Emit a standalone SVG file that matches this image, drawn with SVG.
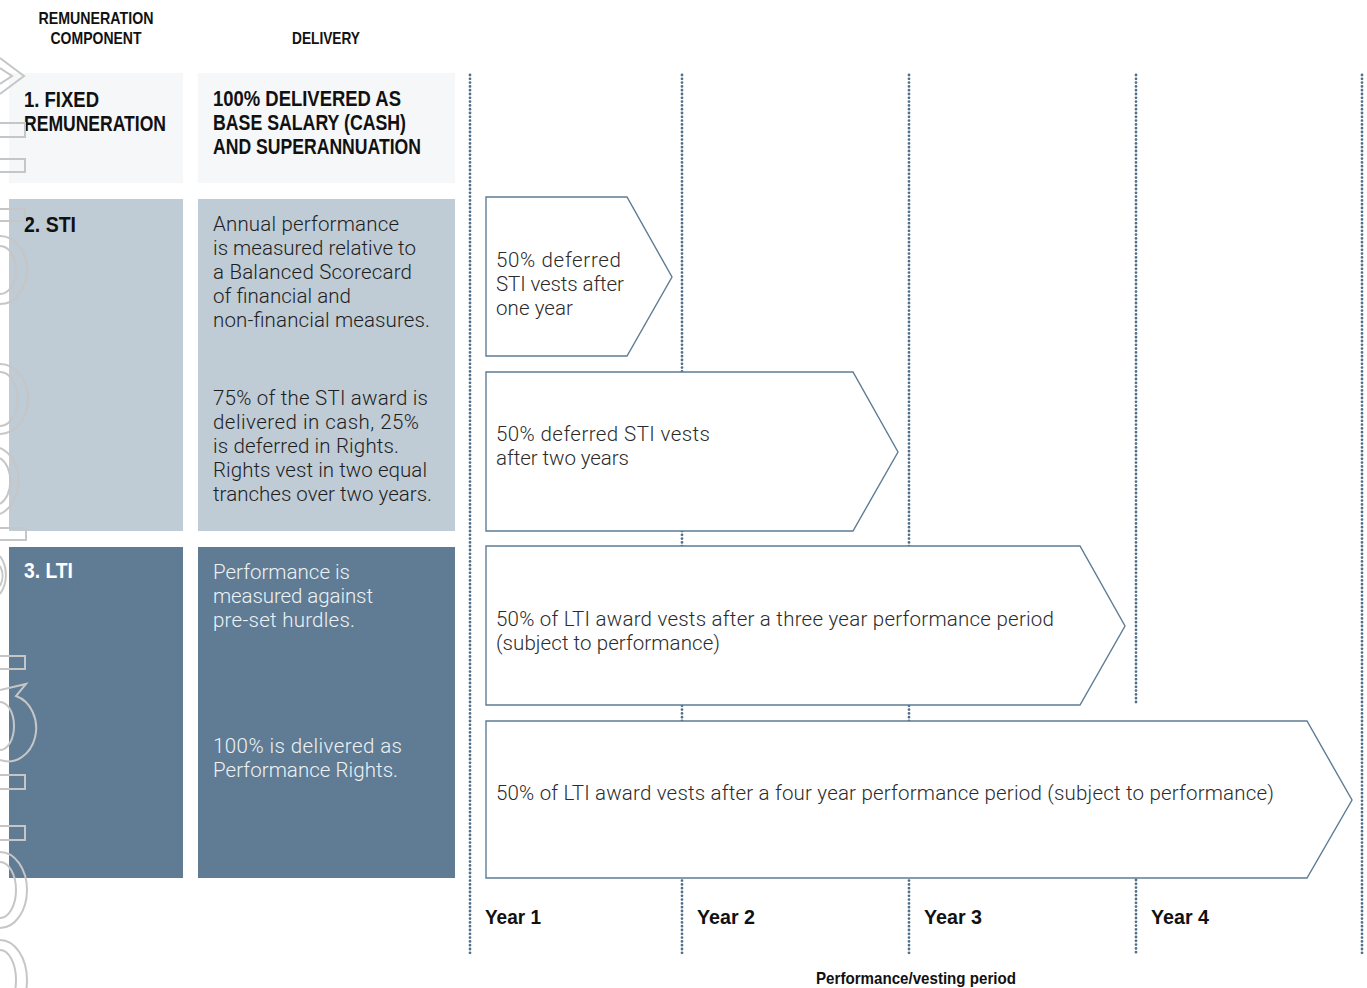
<svg xmlns="http://www.w3.org/2000/svg" width="1367" height="988" viewBox="0 0 1367 988">
  <defs>
    <style>
      .hdr { font-family: "Liberation Sans", Arial, sans-serif; font-weight: 700; fill: #111; }
      .light { font-family: Roboto, "Liberation Sans", sans-serif; font-weight: 300; font-size: 20.5px; fill: #1e1e1e; }
      .lightw { font-family: Roboto, "Liberation Sans", sans-serif; font-weight: 300; font-size: 20.5px; fill: #eef2f5; }
      .arrtxt { font-family: Roboto, "Liberation Sans", sans-serif; font-weight: 300; font-size: 20.5px; fill: #2b2b2b; }
      .grid { stroke: #4f6f8a; stroke-width: 2.8; stroke-dasharray: 0 3.8; stroke-linecap: round; fill: none; }
      .arrow { fill: #ffffff; stroke: #5e7c94; stroke-width: 1.4; }
      .mark { fill: none; stroke: #c6c6c6; stroke-width: 2; }
    </style>
  </defs>
  <rect width="1367" height="988" fill="#ffffff"/>

  <!-- column headers -->
  <g id="headers">
    <text class="hdr" font-size="16.5" x="96" y="24" text-anchor="middle" textLength="115" lengthAdjust="spacingAndGlyphs">REMUNERATION</text>
    <text class="hdr" font-size="16.5" x="96" y="44" text-anchor="middle" textLength="91" lengthAdjust="spacingAndGlyphs">COMPONENT</text>
    <text class="hdr" font-size="16.5" x="326" y="44" text-anchor="middle" textLength="68" lengthAdjust="spacingAndGlyphs">DELIVERY</text>
  </g>

  <!-- vertical year grid lines -->
  <g id="connectors">
    <line class="grid" x1="470" y1="75" x2="470" y2="955"/>
    <line class="grid" x1="682" y1="75" x2="682" y2="955"/>
    <line class="grid" x1="909" y1="75" x2="909" y2="955"/>
    <line class="grid" x1="1136" y1="75" x2="1136" y2="705"/>
    <line class="grid" x1="1136" y1="880" x2="1136" y2="955"/>
    <line class="grid" x1="1362" y1="75" x2="1362" y2="955"/>
  </g>

  <!-- 1. Fixed remuneration -->
  <g id="fixed">
    <rect x="9" y="73" width="174" height="110" fill="#f6f7f8"/>
    <text class="hdr" font-size="22" x="24" y="107" textLength="75" lengthAdjust="spacingAndGlyphs">1. FIXED</text>
    <text class="hdr" font-size="22" x="24" y="131" textLength="142" lengthAdjust="spacingAndGlyphs">REMUNERATION</text>
  </g>
  <g id="fixed-delivery">
    <rect x="198" y="73" width="257" height="110" fill="#f6f7f8"/>
    <text class="hdr" font-size="22" x="213" y="106" textLength="188" lengthAdjust="spacingAndGlyphs">100% DELIVERED AS</text>
    <text class="hdr" font-size="22" x="213" y="130" textLength="193" lengthAdjust="spacingAndGlyphs">BASE SALARY (CASH)</text>
    <text class="hdr" font-size="22" x="213" y="154" textLength="208" lengthAdjust="spacingAndGlyphs">AND SUPERANNUATION</text>
  </g>

  <!-- 2. STI -->
  <g id="sti">
    <rect x="9" y="199" width="174" height="332" fill="#bfcbd5"/>
    <text class="hdr" font-size="22" x="24" y="232" textLength="52" lengthAdjust="spacingAndGlyphs">2. STI</text>
  </g>
  <g id="sti-delivery">
    <rect x="198" y="199" width="257" height="332" fill="#bfcbd5"/>
    <text class="light" x="213" y="231" textLength="186">Annual performance</text>
    <text class="light" x="213" y="255" textLength="203">is measured relative to</text>
    <text class="light" x="213" y="279" textLength="199">a Balanced Scorecard</text>
    <text class="light" x="213" y="303" textLength="138">of financial and</text>
    <text class="light" x="213" y="327" textLength="217">non-financial measures.</text>
    <text class="light" x="213" y="405" textLength="215">75% of the STI award is</text>
    <text class="light" x="213" y="429" textLength="206">delivered in cash, 25%</text>
    <text class="light" x="213" y="453" textLength="186">is deferred in Rights.</text>
    <text class="light" x="213" y="477" textLength="214">Rights vest in two equal</text>
    <text class="light" x="213" y="501" textLength="219">tranches over two years.</text>
  </g>

  <!-- 3. LTI -->
  <g id="lti">
    <rect x="9" y="547" width="174" height="331" fill="#5f7c94"/>
    <text class="hdr" font-size="22" x="24" y="578" style="fill:#ffffff" textLength="49" lengthAdjust="spacingAndGlyphs">3. LTI</text>
  </g>
  <g id="lti-delivery">
    <rect x="198" y="547" width="257" height="331" fill="#5f7c94"/>
    <text class="lightw" x="213" y="579" textLength="137">Performance is</text>
    <text class="lightw" x="213" y="603" textLength="160">measured against</text>
    <text class="lightw" x="213" y="627" textLength="142">pre-set hurdles.</text>
    <text class="lightw" x="213" y="753" textLength="189">100% is delivered as</text>
    <text class="lightw" x="213" y="777" textLength="185">Performance Rights.</text>
  </g>

  <!-- decorative outline shapes along the left edge -->
  <g id="edge-mark">
    <path class="mark" d="M0,58 L24,76 L0,94 M0,68 L12,76 L0,84"/>
    <rect class="mark" x="-4" y="123" width="29" height="14"/>
    <rect class="mark" x="-4" y="159" width="29" height="13"/>
    <rect class="mark" x="-4" y="209" width="29" height="12"/>
    <path class="mark" d="M0,236 A27,34 0 0 1 0,304 M0,246 A16,24 0 0 1 0,294"/>
    <path class="mark" d="M0,364 A28,35 0 0 1 0,434 M0,372 A17,26 0 0 1 0,426"/>
    <path class="mark" d="M0,448 A28,35 0 0 1 0,514 M0,458 A17,25 0 0 1 0,504"/>
    <path class="mark" d="M0,528 L26,528 L26,540 L0,540 M0,556 A26,30 0 0 1 0,594 M0,566 A15,18 0 0 1 0,586"/>
    <rect class="mark" x="-4" y="656" width="29" height="13"/>
    <path class="mark" d="M0,690 L26,684 L16,696 A27,32 0 0 1 0,760 M0,702 A14,24 0 0 1 0,750"/>
    <rect class="mark" x="-4" y="775" width="29" height="14"/>
    <rect class="mark" x="-4" y="826" width="29" height="14"/>
    <path class="mark" d="M0,852 A27,38 0 0 1 0,928 M0,862 A16,28 0 0 1 0,918"/>
    <path class="mark" d="M0,940 A27,40 0 0 1 0,1020 M0,950 A16,30 0 0 1 0,1010"/>
  </g>

  <!-- vesting arrows -->
  <g id="sti-year1">
    <polygon class="arrow" points="486,197 627,197 672,277 627,356 486,356"/>
    <text class="arrtxt" x="496" y="267" textLength="125">50% deferred</text>
    <text class="arrtxt" x="496" y="291" textLength="128">STI vests after</text>
    <text class="arrtxt" x="496" y="315" textLength="77">one year</text>
  </g>
  <g id="sti-year2">
    <polygon class="arrow" points="486,372 853,372 898,452 853,531 486,531"/>
    <text class="arrtxt" x="496" y="441" textLength="214">50% deferred STI vests</text>
    <text class="arrtxt" x="496" y="465" textLength="133">after two years</text>
  </g>
  <g id="lti-year3">
    <polygon class="arrow" points="486,546 1080,546 1125,626 1080,705 486,705"/>
    <text class="arrtxt" x="496" y="626" textLength="558">50% of LTI award vests after a three year performance period</text>
    <text class="arrtxt" x="496" y="650" textLength="224">(subject to performance)</text>
  </g>
  <g id="lti-year4">
    <polygon class="arrow" points="486,721 1307,721 1352,800 1307,878 486,878"/>
    <text class="arrtxt" x="496" y="800" textLength="778">50% of LTI award vests after a four year performance period (subject to performance)</text>
  </g>

  <!-- timeline labels -->
  <g id="years">
    <text class="hdr" font-size="20.5" x="485" y="924" textLength="56" lengthAdjust="spacingAndGlyphs">Year 1</text>
    <text class="hdr" font-size="20.5" x="697" y="924" textLength="58" lengthAdjust="spacingAndGlyphs">Year 2</text>
    <text class="hdr" font-size="20.5" x="924" y="924" textLength="58" lengthAdjust="spacingAndGlyphs">Year 3</text>
    <text class="hdr" font-size="20.5" x="1151" y="924" textLength="58" lengthAdjust="spacingAndGlyphs">Year 4</text>
    <text class="hdr" font-size="16.5" x="916" y="984" text-anchor="middle" textLength="200" lengthAdjust="spacingAndGlyphs">Performance/vesting period</text>
  </g>
</svg>
